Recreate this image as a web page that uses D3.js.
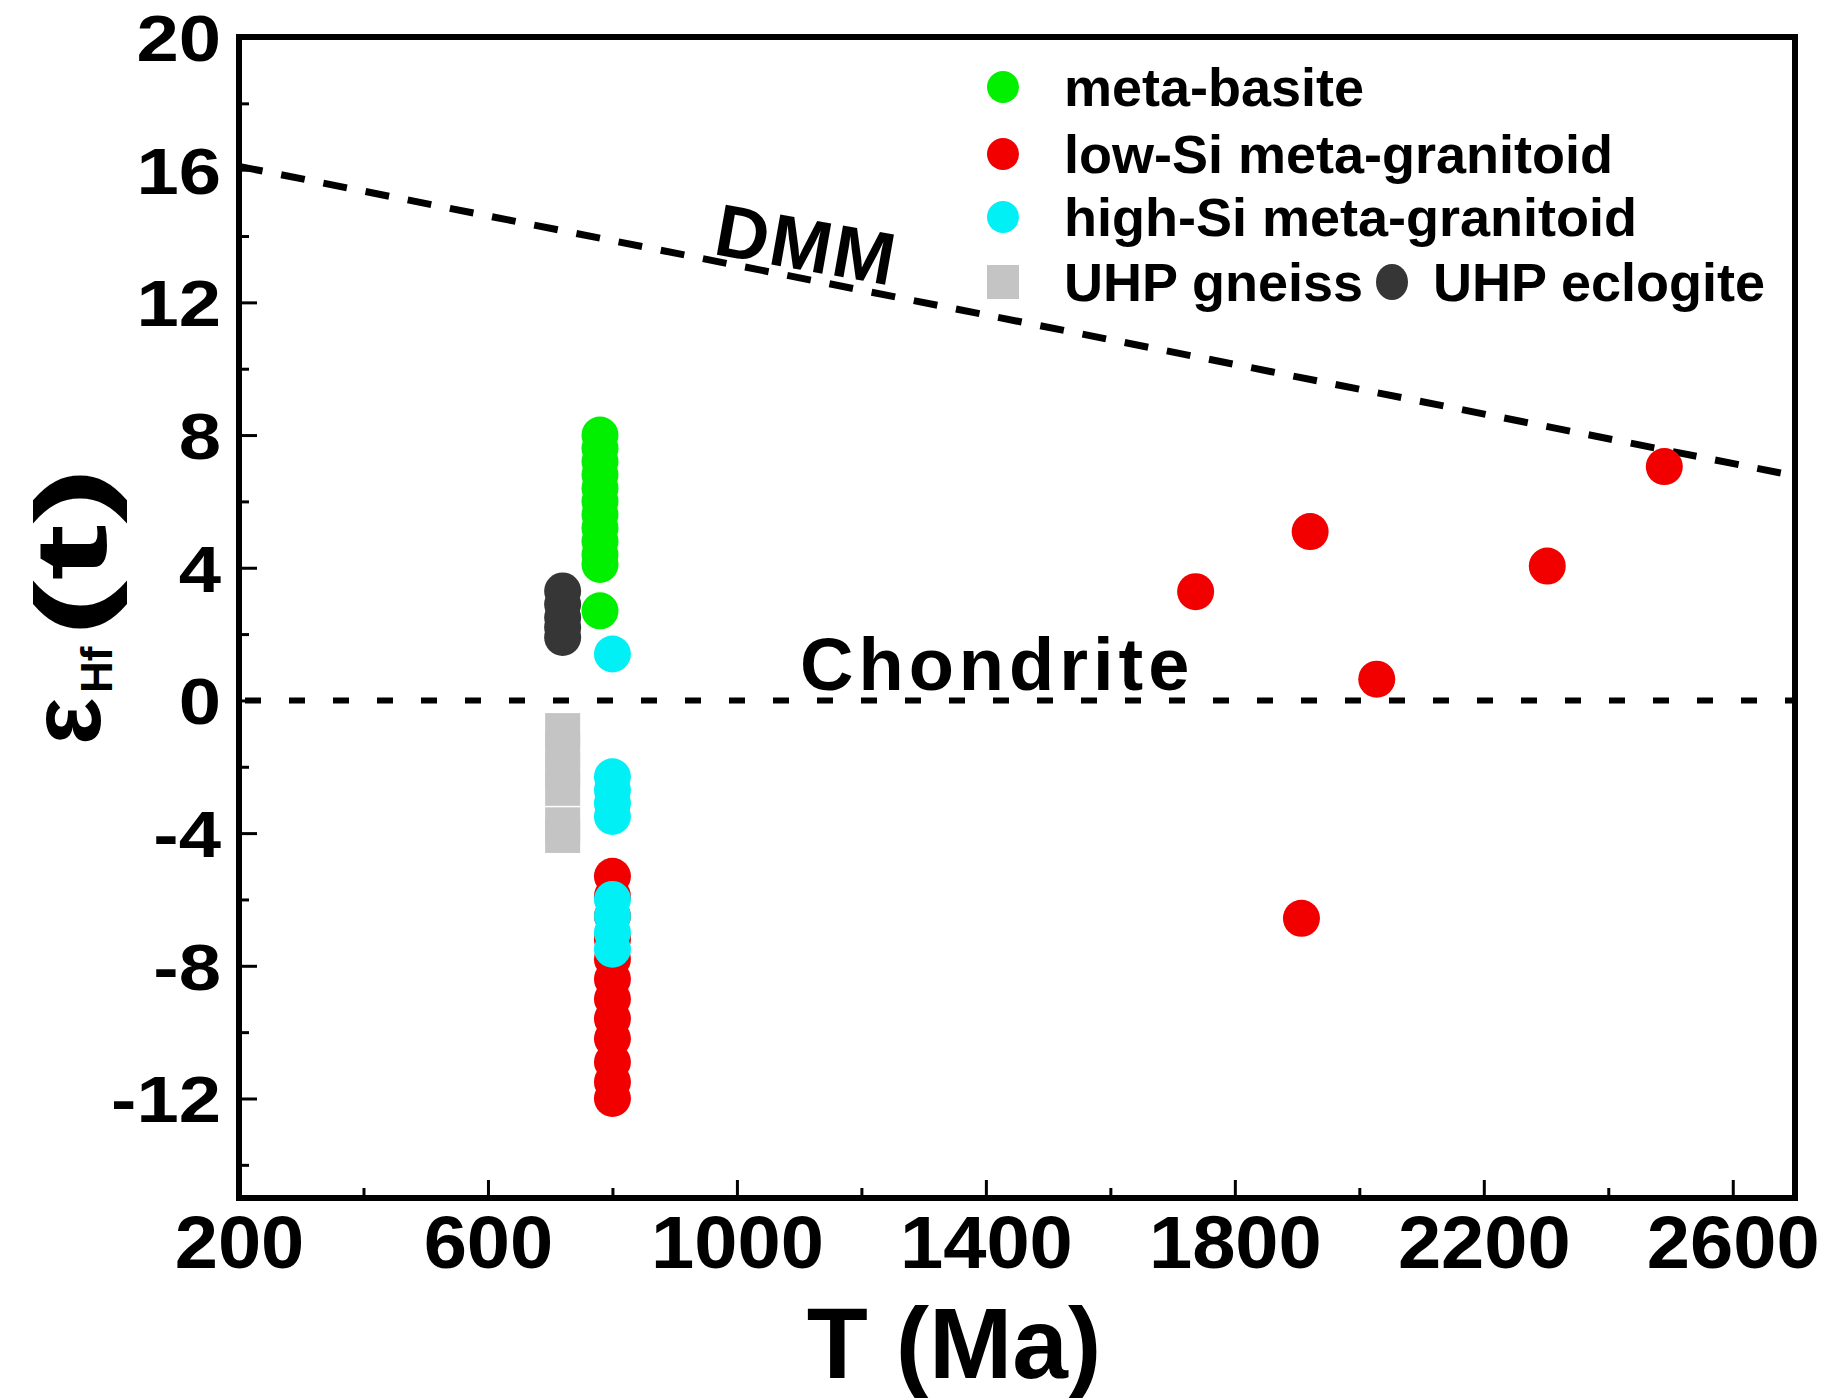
<!DOCTYPE html>
<html>
<head>
<meta charset="utf-8">
<script src="https://cdn.jsdelivr.net/npm/d3@7"></script>
<style>
  html, body { margin: 0; padding: 0; background: #fff; }
  svg { display: block; font-family: "Liberation Sans", Arial, Helvetica, sans-serif; font-weight: bold; }
</style>
</head>
<body>
<svg id="chart" width="1824" height="1398"></svg>
<script>
// ---- data: [age T (Ma), εHf(t)] ----
const metaBasite = [
  [780, 8.0], [780, 7.6], [780, 7.2], [780, 6.8], [780, 6.4], [780, 6.0],
  [780, 5.6], [780, 5.2], [780, 4.8], [780, 4.4], [780, 4.1], [780, 2.7]
];
const lowSiGranitoid = [
  [800, -5.3], [800, -5.9], [800, -6.5], [800, -7.2], [800, -7.8], [800, -8.4],
  [800, -9.0], [800, -9.6], [800, -10.2], [800, -10.9], [800, -11.5], [800, -12.0],
  [1737, 3.28], [1921, 5.09], [2028, 0.64], [2302, 4.05], [2490, 7.05], [1907, -6.57]
];
const highSiGranitoid = [
  [800, 1.4], [800, -2.3], [800, -2.7], [800, -3.1], [800, -3.5],
  [800, -6.0], [800, -6.5], [800, -7.0], [800, -7.5]
];
const uhpGneiss = [
  [720, -0.91], [720, -1.5], [720, -2.1], [720, -2.65], [720, -3.75], [720, -4.07]
];
const uhpEclogite = [
  [720, 3.3], [720, 2.9], [720, 2.5], [720, 2.2], [720, 1.9]
];

// reference evolution lines
const dmmLine = [[200, 16.1], [2700, 6.77]];
const chondriteLine = [[200, 0], [2700, 0]];

// axes
const xDomain = [200, 2700];
const yDomain = [-15, 20];
const xMajorTicks = [200, 600, 1000, 1400, 1800, 2200, 2600];
const xMinorTicks = [400, 800, 1200, 1600, 2000, 2400];
const yMajorTicks = [-12, -8, -4, 0, 4, 8, 12, 16, 20];
const yMinorTicks = [-14, -10, -6, -2, 2, 6, 10, 14, 18];

const legendLabels = ["meta-basite", "low-Si meta-granitoid", "high-Si meta-granitoid", "UHP gneiss", "UHP eclogite"];

// ---- drawing ----
const colors = {
  basite: "#00f000",
  low: "#f20000",
  high: "#00f0f5",
  gneiss: "#c4c4c4",
  eclogite: "#363636"
};

const plot = { left: 239, right: 1795, top: 37, bottom: 1198 };
const svg = d3.select("#chart");

const x = d3.scaleLinear().domain(xDomain).range([plot.left, plot.right]);
const y = d3.scaleLinear().domain(yDomain).range([plot.bottom, plot.top]);

const R = 18.5;          // marker radius
const SQ = 35;           // square marker side

// bottom axis: major + minor ticks pointing inward
const gx = svg.append("g").attr("transform", `translate(0,${plot.bottom})`)
  .call(d3.axisBottom(x).tickValues(xMajorTicks).tickSize(-18).tickFormat(d => String(d)));
svg.append("g").attr("transform", `translate(0,${plot.bottom})`)
  .call(d3.axisBottom(x).tickValues(xMinorTicks).tickSize(-10).tickFormat(""))
  .call(g => g.select(".domain").remove());
gx.select(".domain").remove();
gx.selectAll(".tick text")
  .attr("y", 0).attr("dy", 0).attr("x", 0)
  .attr("font-size", 74).attr("font-weight", "bold").attr("fill", "#000")
  .attr("font-family", "Liberation Sans, Arial, sans-serif")
  .attr("transform", "translate(0,70) scale(1.05,1)");

// left axis
const gy = svg.append("g").attr("transform", `translate(${plot.left},0)`)
  .call(d3.axisLeft(y).tickValues(yMajorTicks).tickSize(-18).tickFormat(d => String(d)));
svg.append("g").attr("transform", `translate(${plot.left},0)`)
  .call(d3.axisLeft(y).tickValues(yMinorTicks).tickSize(-10).tickFormat(""))
  .call(g => g.select(".domain").remove());
gy.select(".domain").remove();
gy.selectAll(".tick text")
  .attr("x", 0).attr("dy", "0.36em")
  .attr("font-size", 65).attr("font-weight", "bold").attr("fill", "#000")
  .attr("font-family", "Liberation Sans, Arial, sans-serif")
  .attr("text-anchor", "end")
  .attr("transform", "translate(-18,0) scale(1.17,1)");

svg.selectAll(".tick line").attr("stroke", "#000").attr("stroke-width", 3);

// reference lines
const line = d3.line().x(d => x(d[0])).y(d => y(d[1]));
svg.append("path").datum(dmmLine).attr("d", line)
  .attr("fill", "none").attr("stroke", "#000").attr("stroke-width", 7)
  .attr("stroke-dasharray", "24,19");
svg.append("path").datum(chondriteLine).attr("d", line)
  .attr("fill", "none").attr("stroke", "#000").attr("stroke-width", 6)
  .attr("stroke-dasharray", "16,28").attr("stroke-dashoffset", -6);

// line labels
const dmmAngle = Math.atan2(y(dmmLine[1][1]) - y(dmmLine[0][1]), x(dmmLine[1][0]) - x(dmmLine[0][0])) * 180 / Math.PI;
svg.append("text")
  .attr("transform", `translate(712,254) rotate(${dmmAngle - 1.2})`)
  .attr("font-size", 74).attr("letter-spacing", 2)
  .text("DMM");
svg.append("text")
  .attr("x", 800).attr("y", 690)
  .attr("font-size", 74).attr("letter-spacing", 5)
  .text("Chondrite");

// markers
const gData = svg.append("g");
gData.selectAll("rect.gneiss").data(uhpGneiss).join("rect")
  .attr("x", d => x(d[0]) - SQ / 2).attr("y", d => y(d[1]) - SQ / 2)
  .attr("width", SQ).attr("height", SQ).attr("fill", colors.gneiss);

function dots(data, color) {
  gData.append("g").selectAll("circle").data(data).join("circle")
    .attr("cx", d => x(d[0])).attr("cy", d => y(d[1])).attr("r", R)
    .attr("fill", color);
}
dots(uhpEclogite, colors.eclogite);
dots(metaBasite, colors.basite);
dots(lowSiGranitoid, colors.low);
dots(highSiGranitoid, colors.high);

// legend
const leg = svg.append("g").attr("font-size", 54);
const legRows = [87, 154, 217, 282];
const legColors = [colors.basite, colors.low, colors.high];
legColors.forEach((c, i) => {
  leg.append("circle").attr("cx", 1003).attr("cy", legRows[i]).attr("r", 16).attr("fill", c);
  leg.append("text").attr("x", 1064).attr("y", legRows[i]).attr("dy", "0.36em").text(legendLabels[i]);
});
leg.append("rect").attr("x", 1003 - 16).attr("y", legRows[3] - 17).attr("width", 32).attr("height", 34)
  .attr("fill", colors.gneiss);
leg.append("text").attr("x", 1064).attr("y", legRows[3]).attr("dy", "0.36em").text(legendLabels[3]);
leg.append("ellipse").attr("cx", 1392).attr("cy", legRows[3]).attr("rx", 16).attr("ry", 18)
  .attr("fill", colors.eclogite);
leg.append("text").attr("x", 1433).attr("y", legRows[3]).attr("dy", "0.36em").text(legendLabels[4]);

// frame
svg.append("rect")
  .attr("x", plot.left).attr("y", plot.top)
  .attr("width", plot.right - plot.left).attr("height", plot.bottom - plot.top)
  .attr("fill", "none").attr("stroke", "#000").attr("stroke-width", 6);

// axis titles
svg.append("text")
  .attr("x", 954).attr("y", 1378).attr("text-anchor", "middle")
  .attr("font-size", 100)
  .text("T (Ma)");

const yt = svg.append("g").attr("transform", "translate(100,745) rotate(-90)");
yt.append("text").attr("x", 0).attr("y", 0).attr("font-size", 100).text("ε");
yt.append("text").attr("x", 52).attr("y", 12).attr("font-size", 44).text("Hf");
yt.append("text").attr("x", 0).attr("y", 0).attr("font-size", 100)
  .attr("transform", "translate(108,6) scale(1.7,1)").text("(t)");
</script>
</body>
</html>
